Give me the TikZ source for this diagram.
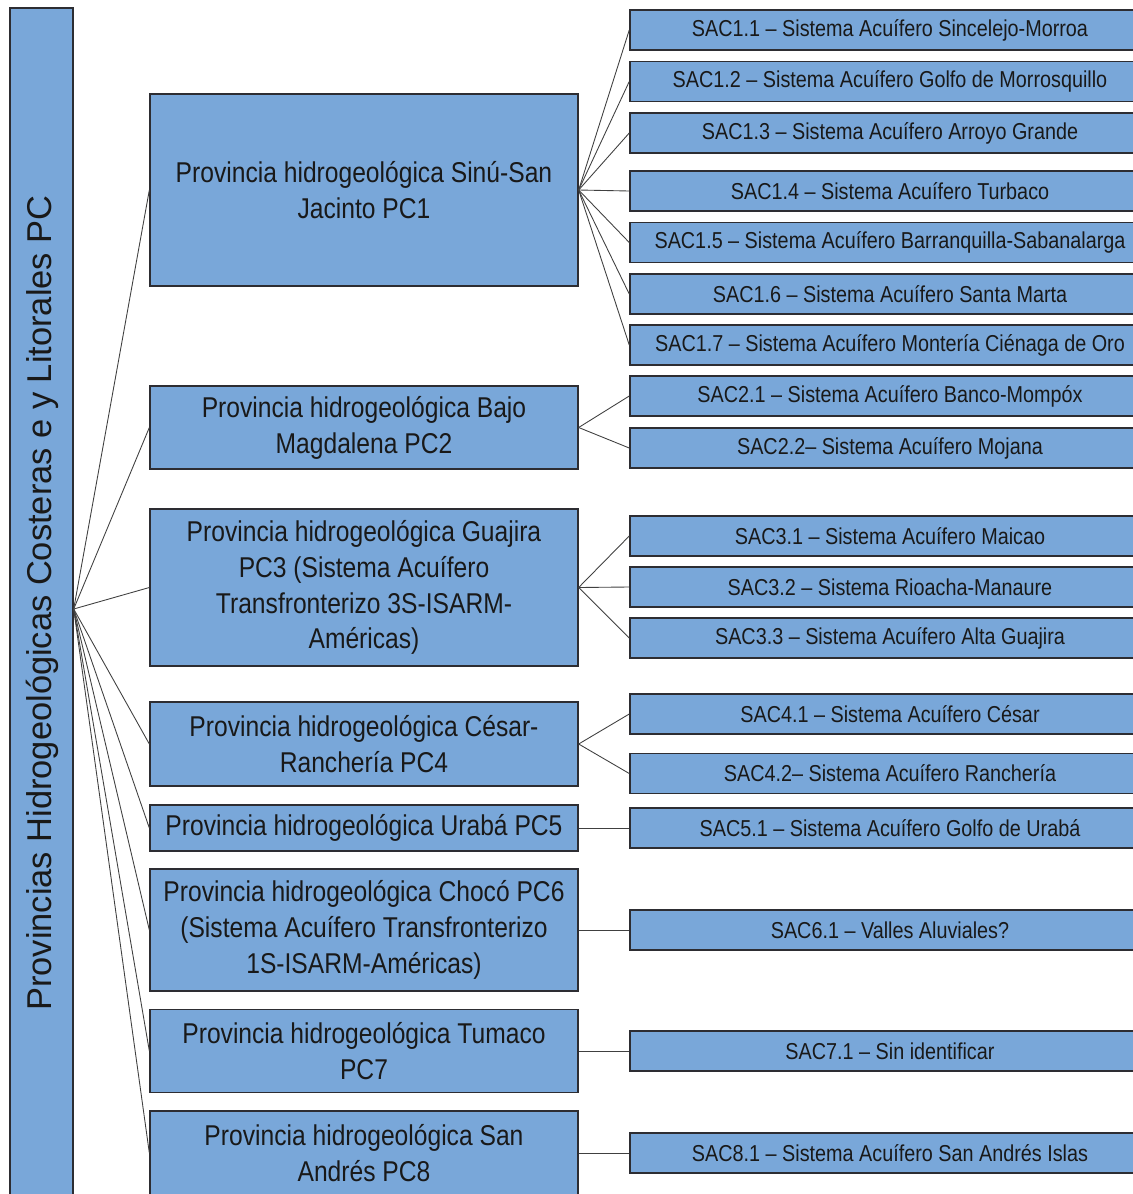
\documentclass[tikz,border=0pt]{standalone}
\usepackage{fontspec}
\setmainfont{Liberation Sans}[FakeStretch=0.86]
\newfontfamily\rootfont{Liberation Sans}
\definecolor{boxblue}{RGB}{121,167,217}
\definecolor{boxline}{RGB}{45,45,50}
\tikzset{
  provbox/.style={draw=boxline, fill=boxblue, line width=0.8pt, minimum width=8.56cm, minimum height=#1*0.02cm, inner sep=0pt, align=center, text=black!90, font=\fontsize{16.3}{20.4}\selectfont},
  sacbox/.style={draw=boxline, fill=boxblue, line width=0.9pt, minimum width=10.4cm, minimum height=0.8cm, inner sep=0pt, text=black!90, font=\fontsize{13.1}{15}\selectfont},
  link/.style={draw=black!75, line width=0.5pt}
}
\begin{document}
\begin{tikzpicture}[x=0.02cm, y=-0.02cm]
        \useasboundingbox (0,0) rectangle (1133,1194);
        \clip (0,0) rectangle (1133,1194);

        % Root
        \node[draw=boxline, fill=boxblue, line width=0.8pt, minimum width=1.26cm, minimum height=24.04cm] (root) at (41.5,609) {};
        \node[rotate=90, text=black!90, font=\rootfont\fontsize{19.6}{22}\selectfont] (rootlabel) at (42,603) {Provincias Hidrogeológicas Costeras e y Litorales PC};

        % Provinces
        \node[provbox=192] (pc1) at (364,190) {Provincia hidrogeológica Sinú-San\\Jacinto PC1};
        \node[provbox=83] (pc2) at (364,427.5) {Provincia hidrogeológica Bajo\\Magdalena PC2};
        \node[provbox=157] (pc3) at (364,587.5) {Provincia hidrogeológica Guajira\\PC3 (Sistema Acuífero\\Transfronterizo 3S-ISARM-\\Américas)};
        \node[provbox=84] (pc4) at (364,744) {Provincia hidrogeológica César-\\Ranchería PC4};
        \node[provbox=46] (pc5) at (364,828) {Provincia hidrogeológica Urabá PC5};
        \node[provbox=122] (pc6) at (364,930) {Provincia hidrogeológica Chocó PC6\\(Sistema Acuífero Transfronterizo\\1S-ISARM-Américas)};
        \node[provbox=83] (pc7) at (364,1051) {Provincia hidrogeológica Tumaco\\PC7};
        \node[provbox=84] (pc8) at (364,1153) {Provincia hidrogeológica San\\Andrés PC8};

        % Aquifer systems
        \node[sacbox] (sac1-1) at (890,30) {SAC1.1 – Sistema Acuífero Sincelejo-Morroa};
        \node[sacbox] (sac1-2) at (890,81.5) {SAC1.2 – Sistema Acuífero Golfo de Morrosquillo};
        \node[sacbox] (sac1-3) at (890,133) {SAC1.3 – Sistema Acuífero Arroyo Grande};
        \node[sacbox] (sac1-4) at (890,191) {SAC1.4 – Sistema Acuífero Turbaco};
        \node[sacbox] (sac1-5) at (890,242.5) {SAC1.5 – Sistema Acuífero Barranquilla-Sabanalarga};
        \node[sacbox] (sac1-6) at (890,294) {SAC1.6 – Sistema Acuífero Santa Marta};
        \node[sacbox] (sac1-7) at (890,345) {SAC1.7 – Sistema Acuífero Montería Ciénaga de Oro};

        \node[sacbox] (sac2-1) at (890,396) {SAC2.1 – Sistema Acuífero Banco-Mompóx};
        \node[sacbox] (sac2-2) at (890,448) {SAC2.2– Sistema Acuífero Mojana};

        \node[sacbox] (sac3-1) at (890,536) {SAC3.1 – Sistema Acuífero Maicao};
        \node[sacbox] (sac3-2) at (890,587) {SAC3.2 – Sistema Rioacha-Manaure};
        \node[sacbox] (sac3-3) at (890,638) {SAC3.3 – Sistema Acuífero Alta Guajira};

        \node[sacbox] (sac4-1) at (890,714) {SAC4.1 – Sistema Acuífero César};
        \node[sacbox] (sac4-2) at (890,773.5) {SAC4.2– Sistema Acuífero Ranchería};

        \node[sacbox] (sac5-1) at (890,828) {SAC5.1 – Sistema Acuífero Golfo de Urabá};
        \node[sacbox] (sac6-1) at (890,930) {SAC6.1 – Valles Aluviales?};
        \node[sacbox] (sac7-1) at (890,1051) {SAC7.1 – Sin identificar};
        \node[sacbox] (sac8-1) at (890,1153) {SAC8.1 – Sistema Acuífero San Andrés Islas};

        % Links
        \foreach \p in {1,...,8} {
            \draw[link] (root.east) -- (pc\p.west);
        }
        \foreach \s in {1,...,7} {
            \draw[link] (pc1.east) -- (sac1-\s.west);
        }
        \foreach \s in {1,2} {
            \draw[link] (pc2.east) -- (sac2-\s.west);
            \draw[link] (pc4.east) -- (sac4-\s.west);
        }
        \foreach \s in {1,2,3} {
            \draw[link] (pc3.east) -- (sac3-\s.west);
        }
        \foreach \p in {5,6,7,8} {
            \draw[link] (pc\p.east) -- (sac\p-1.west);
        }
\end{tikzpicture}
\end{document}
